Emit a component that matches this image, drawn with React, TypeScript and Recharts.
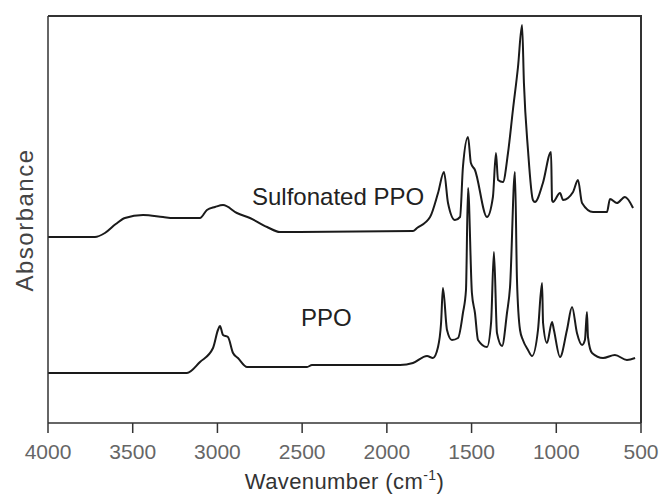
import React from "react";
import { LineChart, Line, XAxis, YAxis, Label, Customized, CartesianGrid } from "recharts";

// Wavenumber (cm-1)
const sulfonatedWavenumber = [
  4000, 3723, 3664, 3600, 3546, 3439, 3321, 3262, 3103, 3062, 3014, 2967, 2885, 2808, 2707, 2631,
  1846, 1822, 1745, 1698, 1663, 1639, 1598, 1568, 1551, 1521, 1504, 1480, 1409, 1374, 1356,
  1344, 1315, 1285, 1256, 1226, 1202, 1191, 1167, 1138, 1126, 1079, 1031, 1025, 1020, 978,
  960, 901, 872, 848, 783, 701, 683, 642, 595, 547,
];
// Absorbance (arbitrary units, offset)
const sulfonatedAbsorbance = [
  1.86, 1.86, 1.9, 1.99, 2.05, 2.08, 2.06, 2.05, 2.05, 2.13, 2.16, 2.18, 2.1, 2.05, 1.96, 1.91,
  1.92, 1.95, 2.06, 2.3, 2.51, 2.2, 2.03, 2.06, 2.56, 2.86, 2.6, 2.53, 2.06, 2.26, 2.7,
  2.43, 2.41, 2.7, 3.13, 3.56, 3.98, 3.4, 2.73, 2.23, 2.21, 2.4, 2.71, 2.23, 2.21, 2.3,
  2.23, 2.31, 2.43, 2.2, 2.11, 2.11, 2.24, 2.2, 2.26, 2.15,
];

const ppoWavenumber = [
  4000, 3180, 3103, 3026, 2997, 2985, 2967, 2938, 2908, 2879, 2825, 2471, 2442, 1922, 1846,
  1763, 1728, 1698, 1680, 1669, 1645, 1616, 1580, 1551, 1533, 1521, 1498, 1480, 1462, 1409,
  1385, 1368, 1350, 1320, 1291, 1273, 1244, 1232, 1214, 1197, 1167, 1143, 1108, 1084, 1078,
  1055, 1025, 1014, 978, 937, 907, 878, 848, 831, 819, 813, 789, 724, 654, 583, 535,
];
const ppoAbsorbance = [
  0.5, 0.5, 0.61, 0.75, 0.93, 0.97, 0.88, 0.86, 0.7, 0.65, 0.56, 0.56, 0.58, 0.58, 0.6,
  0.67, 0.65, 0.76, 1.0, 1.35, 0.93, 0.83, 0.85, 1.1, 1.33, 2.35, 1.3, 1.1, 0.83, 0.76,
  1.0, 1.71, 0.9, 0.77, 1.1, 1.36, 2.51, 1.43, 0.93, 0.83, 0.73, 0.67, 0.93, 1.4, 1.0,
  0.8, 1.01, 0.93, 0.66, 0.93, 1.16, 0.9, 0.78, 0.83, 1.11, 0.86, 0.7, 0.65, 0.68, 0.63, 0.65,
];

const xTicks = [4000, 3500, 3000, 2500, 2000, 1500, 1000, 500];
const seriesNames = ["Sulfonated PPO", "PPO"];
const xDomain = [500, 4000];
const yDomain = [0, 4.07];

const sulfonatedData = sulfonatedWavenumber.map((x, i) => ({ x, a: sulfonatedAbsorbance[i] }));
const ppoData = ppoWavenumber.map((x, i) => ({ x, a: ppoAbsorbance[i] }));

const FONT = "'Liberation Sans', Arial, Helvetica, sans-serif";

// plot box (layout only)
const PLOT = { left: 48, top: 16, right: 641, bottom: 423 };

const XTitle = (props: any) => {
  const vb = props.viewBox || {};
  const cx = vb.x + vb.width / 2;
  return (
    <text x={cx} y={489} textAnchor="middle" fontFamily={FONT} fontSize={22} fill="#333" letterSpacing={0.4}>
      Wavenumber (cm
      <tspan fontSize={14} dy={-9}>-1</tspan>
      <tspan dy={9}>)</tspan>
    </text>
  );
};

const YTitle = () => (
  <text
    x={33}
    y={220}
    transform="rotate(-90, 33, 220)"
    textAnchor="middle"
    fontFamily={FONT}
    fontSize={24}
    fill="#444"
    letterSpacing={1.5}
  >
    Absorbance
  </text>
);

const SeriesLabels = () => (
  <g>
    <rect x={PLOT.right - 1} y={PLOT.top - 1} width={2} height={PLOT.bottom - PLOT.top + 1} fill="#333" />
    <rect x={PLOT.left} y={PLOT.top - 1} width={PLOT.right - PLOT.left} height={2} fill="#333" />
    <text x={252} y={205} fontFamily={FONT} fontSize={24} fill="#222">{seriesNames[0]}</text>
    <text x={301} y={326} fontFamily={FONT} fontSize={24} fill="#222">{seriesNames[1]}</text>
  </g>
);

export default function App() {
  return (
    <div style={{ width: 660, height: 497, background: "#fff" }}>
      <style>{`body{margin:0;}`}</style>
      <LineChart width={660} height={497} data={ppoData} margin={{ top: 16, right: 19, left: 0, bottom: 0 }}>
        <CartesianGrid
          stroke="#333"
          strokeWidth={1.5}
          horizontalValues={[yDomain[1]]}
          verticalValues={[xDomain[0]]}
        />
        <XAxis
          dataKey="x"
          type="number"
          domain={xDomain}
          reversed
          ticks={xTicks}
          allowDataOverflow
          height={74}
          tickSize={10}
          tickMargin={11}
          stroke="#333"
          strokeWidth={1.5}
          tick={{ fill: "#666", fontSize: 21, fontFamily: FONT }}
          interval={0}
        >
          <Label content={<XTitle />} />
        </XAxis>
        <YAxis
          type="number"
          domain={yDomain}
          allowDataOverflow
          width={48}
          tick={false}
          tickLine={false}
          stroke="#333"
          strokeWidth={1.5}
        />
        <Line
          data={sulfonatedData}
          dataKey="a"
          name={seriesNames[0]}
          type="monotone"
          stroke="#1a1a1a"
          strokeWidth={2}
          dot={false}
          isAnimationActive={false}
        />
        <Line
          dataKey="a"
          name={seriesNames[1]}
          type="monotone"
          stroke="#1a1a1a"
          strokeWidth={2}
          dot={false}
          isAnimationActive={false}
        />
        <Customized component={<YTitle />} />
        <Customized component={<SeriesLabels />} />
      </LineChart>
    </div>
  );
}
